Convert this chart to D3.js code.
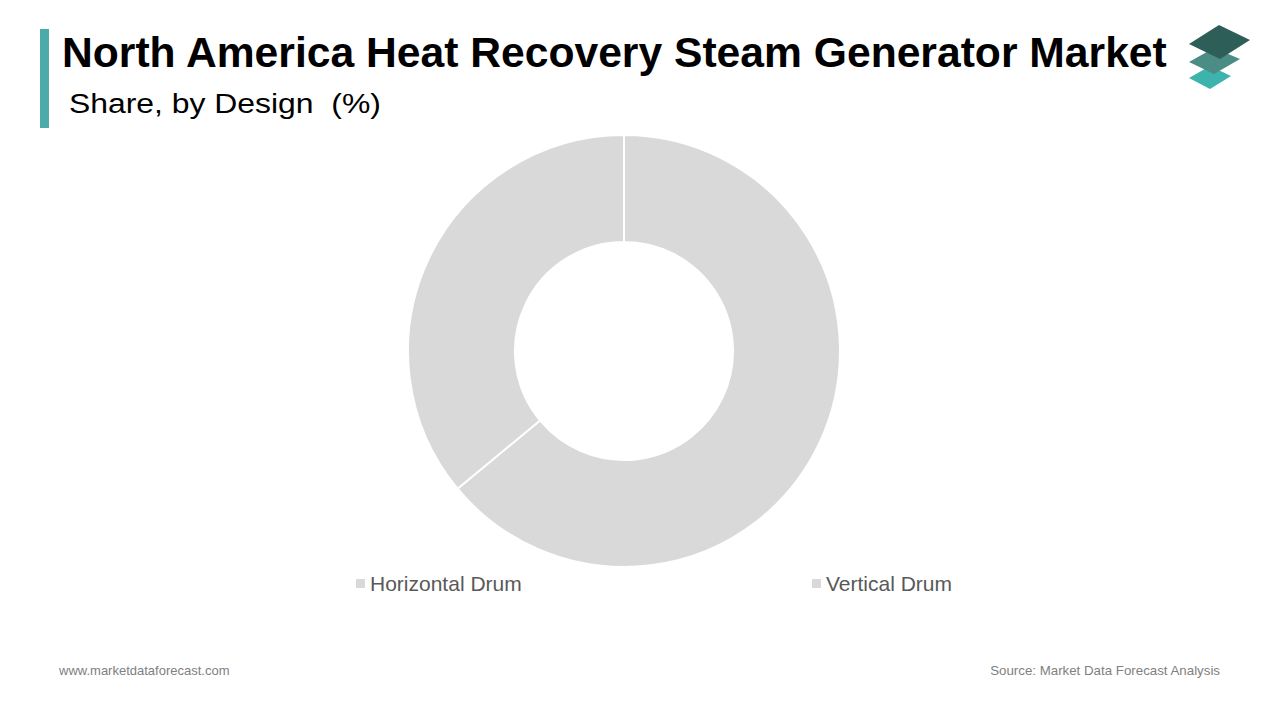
<!DOCTYPE html>
<html>
<head>
<meta charset="utf-8">
<script src="https://cdn.jsdelivr.net/npm/d3@7"></script>
<style>
html,body{margin:0;padding:0;background:#fff;}
svg{display:block;font-family:"Liberation Sans",Arial,sans-serif;}
</style>
</head>
<body>
<svg id="chart" width="1280" height="720"></svg>
<script>
const categories = ["Horizontal Drum", "Vertical Drum"];
const shares = [64, 36];
const sliceColors = ["#d9d9d9", "#d9d9d9"];
const titleText = "North America Heat Recovery Steam Generator Market";
const subtitleText = "Share, by Design  (%)";
const footerLeft = "www.marketdataforecast.com";
const footerRight = "Source: Market Data Forecast Analysis";

const svg = d3.select("#chart");

// accent bar
svg.append("rect").attr("x", 40).attr("y", 29).attr("width", 9).attr("height", 99).attr("fill", "#4aaba8");

// title
const title = svg.append("text").attr("x", 62).attr("y", 67)
  .attr("font-size", 37).attr("font-weight", "bold").attr("fill", "#000").text(titleText);
const tw = title.node().getComputedTextLength();
title.attr("font-size", 37 * 1105 / tw);

// subtitle (slightly stretched horizontally as in reference)
const subG = svg.append("g");
const sub = subG.append("text").attr("x", 0).attr("y", 0)
  .attr("font-size", 28).attr("fill", "#000")
  .style("white-space", "pre").attr("xml:space", "preserve").text(subtitleText);
const sw = sub.node().getComputedTextLength();
subG.attr("transform", `translate(69,113) scale(${312 / sw},1)`);

// logo
const logo = svg.append("g");
logo.append("polygon").attr("points", "1189,78 1210,66 1231,76 1210,89").attr("fill", "#3db3ad");
logo.append("polygon").attr("points", "1189,62 1214,48 1240,59 1214,74").attr("fill", "#4b8c85");
logo.append("polygon").attr("points", "1189,44 1219,25 1250,40 1220,59").attr("fill", "#2e5e58");

// donut
const cx = 624, cy = 351, rOuter = 216, rInner = 109;
const pie = d3.pie().sort(null).value(d => d)(shares);
const arc = d3.arc().innerRadius(rInner).outerRadius(rOuter);
svg.append("g").attr("transform", `translate(${cx},${cy})`)
  .selectAll("path").data(pie).join("path")
  .attr("d", arc)
  .attr("fill", (d, i) => sliceColors[i])
  .attr("stroke", "#fff").attr("stroke-width", 2);

// legend
const legendX = d3.scaleOrdinal().domain(categories).range([356, 812]);
const lg = svg.append("g").selectAll("g").data(categories).join("g")
  .attr("transform", d => `translate(${legendX(d)},579)`);
lg.append("rect").attr("width", 9).attr("height", 9).attr("fill", (d, i) => sliceColors[i]);
lg.append("text").attr("x", 14).attr("y", 12).attr("font-size", 21).attr("fill", "#595959").text(d => d);

// footer
svg.append("text").attr("x", 59).attr("y", 675).attr("font-size", 13).attr("fill", "#808080").text(footerLeft);
svg.append("text").attr("x", 1220).attr("y", 675).attr("text-anchor", "end").attr("font-size", 13.3).attr("fill", "#808080").text(footerRight);
</script>
</body>
</html>
